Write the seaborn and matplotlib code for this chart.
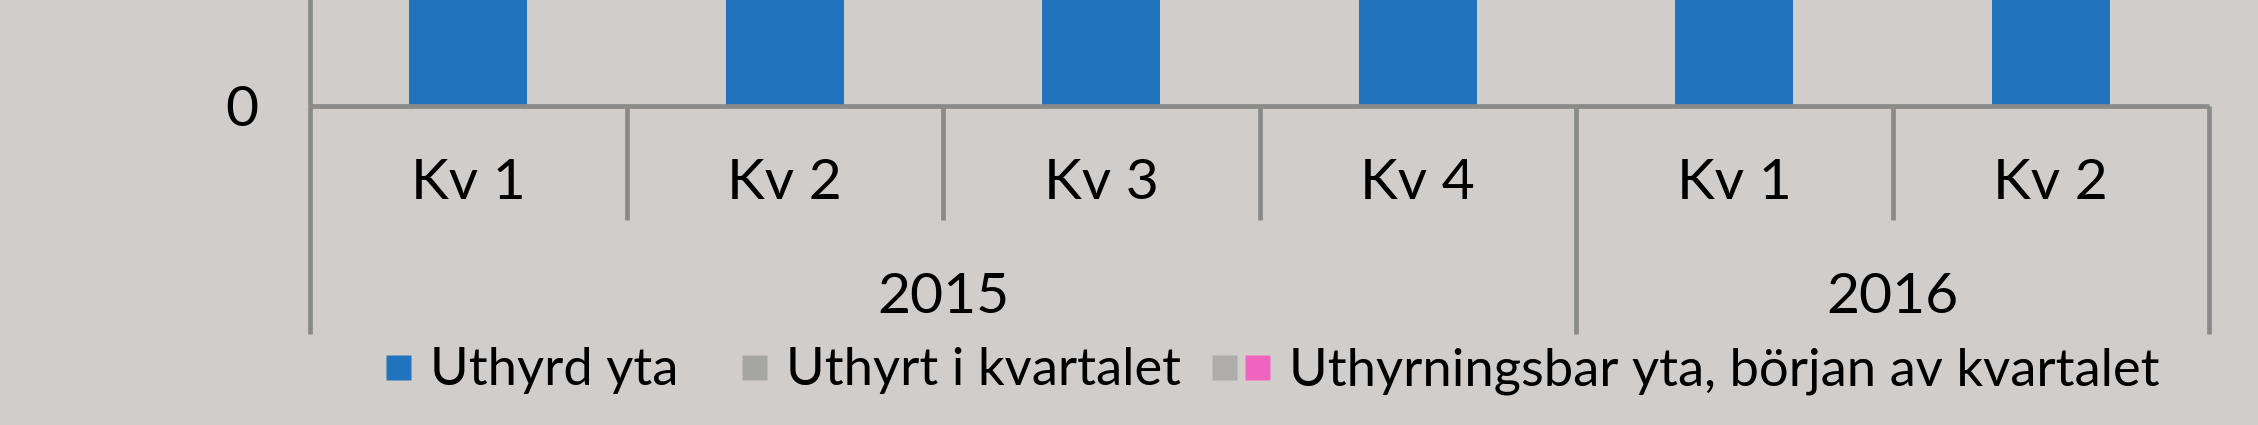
import matplotlib
matplotlib.use("Agg")
import matplotlib.pyplot as plt
import matplotlib.transforms as mtransforms
from matplotlib.lines import Line2D
from matplotlib.legend_handler import HandlerTuple, HandlerLine2D
import pandas as pd
import seaborn as sns

# Data (top of the bars is cropped out of the picture, so heights are estimates)
years = ["2015", "2015", "2015", "2015", "2016", "2016"]
quarters = ["Kv 1", "Kv 2", "Kv 3", "Kv 4", "Kv 1", "Kv 2"]
uthyrd_yta = [1480, 1500, 1520, 1545, 1570, 1590]
series_labels = ["Uthyrd yta", "Uthyrt i kvartalet",
                 "Uthyrningsbar yta, början av kvartalet"]

df = pd.DataFrame({
    "period": [y + " " + q for y, q in zip(years, quarters)],
    "value": uthyrd_yta,
})

BG = "#d1cdca"
BLUE = "#2273be"
GREY = "#a6a6a4"
PINK = "#f064c0"
AXIS = "#8a8a8a"
W = 2258
H = 425
FS = 41      # axis labels
LFS = 37.8   # legend
MS = 18      # legend square, points

sns.set_style("white")
plt.rcParams["font.family"] = ["Lato", "DejaVu Sans"]
plt.rcParams["text.color"] = "black"
plt.rcParams["ytick.color"] = "black"

fig = plt.figure(figsize=(W / 100, H / 100), dpi=100, facecolor=BG)
zero_y = 1 - 106 / H
ax = fig.add_axes([310 / W, zero_y, 1899 / W, 0.5])   # top runs off the figure (cropped chart)
ax.set_facecolor(BG)

sns.barplot(data=df, x="period", y="value", color=BLUE, width=0.373,
            saturation=1, linewidth=0, errorbar=None, ax=ax)

ax.set_xlim(-0.5, len(quarters) - 0.5)
ax.set_ylim(0, 2000)
ax.set_xticks([])
ax.set_yticks([0])
ax.set_xlabel("")
ax.set_ylabel("")
for s in ["top", "right"]:
    ax.spines[s].set_visible(False)
for s in ["left", "bottom"]:
    ax.spines[s].set_color(AXIS)
    ax.spines[s].set_linewidth(3.4)
    ax.spines[s].set_capstyle("butt")
ax.tick_params(axis="y", length=11.5, width=3.4, color=AXIS, pad=26,
               labelsize=FS, labelcolor="black")

# two-level category axis below the zero line
trans = mtransforms.blended_transform_factory(ax.transData, fig.transFigure)
q_bottom = 1 - 220 / H
y_bottom = 1 - 334 / H
n = len(quarters)
for i in range(n + 1):
    edge = i == 0 or i == n or years[i - 1] != years[i]
    fig.add_artist(Line2D([i - 0.5, i - 0.5], [zero_y, y_bottom if edge else q_bottom],
                          transform=trans, color=AXIS, lw=3.4, solid_capstyle="butt"))

for i, q in enumerate(quarters):
    ax.text(i, 1 - 199 / H, q, transform=trans, ha="center", va="baseline",
            fontsize=FS, color="black", clip_on=False)

for y in dict.fromkeys(years):
    idx = [i for i, v in enumerate(years) if v == y]
    ax.text(sum(idx) / len(idx), 1 - 313 / H, y, transform=trans, ha="center",
            va="baseline", fontsize=FS, color="black", clip_on=False)


# legend: single squares sit at the right end of the handle box
class RightMarker(HandlerLine2D):
    def create_artists(self, legend, orig_handle, xdescent, ydescent, width,
                       height, fontsize, trans):
        shift = width / 2 - MS / 2
        return super().create_artists(legend, orig_handle, xdescent - shift, ydescent,
                                      width, height, fontsize, trans)


def sq(c, a=1.0):
    return Line2D([], [], ls="none", marker="s", ms=MS, mfc=c, mec="none", alpha=a)


em = LFS * 100 / 72
fig.legend([sq(BLUE), sq(GREY), (sq(GREY, 0.8), sq(PINK))], series_labels,
           loc="center", bbox_to_anchor=(1256 / W, 1 - 371 / H), ncol=3,
           frameon=False, fontsize=LFS, labelcolor="black", handlelength=58 / em,
           handletextpad=19 / em, columnspacing=31 / em, borderpad=0,
           handler_map={Line2D: RightMarker(numpoints=1),
                        tuple: HandlerTuple(ndivide=None, pad=8 / em)})

fig.savefig("out.png", dpi=100, facecolor=BG)
